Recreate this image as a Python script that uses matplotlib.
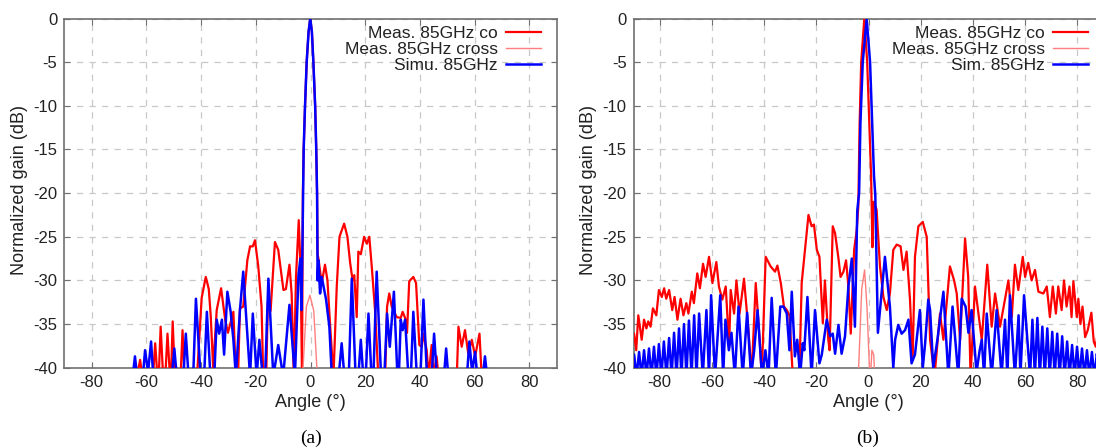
import matplotlib
matplotlib.use("Agg")
import matplotlib.pyplot as plt

plt.rcParams['font.family'] = ['Liberation Sans', 'DejaVu Sans']

# ---------------- panel (a) data ----------------
a_co_ang = [-63.5, -62.3, -61.5, -57.6, -56.8, -56.0, -55.5, -54.8, -53.9, -53.1, -52.3, -51.4, -51.0, -50.4, -49.6,
            -47.5, -46.8, -46.1, -41.5, -39.8, -38.3, -37.2, -36.5, -35.6, -34.3, -32.7, -31.2, -30.2, -28.2, -27.3,
            -26.5, -25.8, -24.6, -23.1, -22.1, -21.1, -20.3, -19.1, -17.9, -17.3, -16.2, -15.6, -14.6, -13.0, -11.8,
            -9.9, -9.0, -7.7, -6.9, -6.1, -5.3, -4.3, -3.6, -3.1, -2.8, -2.5, -2.0, -1.4, -0.7, -0.1, 0.5, 1.05, 1.7,
            2.1, 2.4, 2.6, 2.9, 4.1, 5.3, 6.2, 7.2, 8.4, 9.6, 10.6, 12.3, 13.5, 14.5, 15.4, 16.0, 16.9, 17.5, 18.4,
            19.6, 20.6, 21.5, 22.4, 23.6, 24.8, 27.3, 28.0, 28.8, 29.7, 31.5, 33.0, 33.7, 34.6, 35.3, 36.1, 37.6,
            38.6, 39.8, 40.7, 41.3, 42.5, 43.2, 44.3, 45.0, 46.1, 46.8, 53.5, 54.1, 55.3, 56.5, 57.7, 59.0, 60.2,
            61.8, 62.6]
a_co_db = [-41, -39.1, -41, -41, -37.2, -41, -41, -35.3, -41, -41, -36.1, -41, -41, -34.7, -41,
           -41, -35.7, -41, -41, -32.0, -29.6, -31.0, -34.0, -40.0, -33.4, -30.9, -34.5, -36.0, -33.6, -41,
           -41, -33.2, -33.0, -27.7, -26.1, -26.1, -25.4, -28.4, -33.0, -41, -41, -32.5, -33.5, -25.6, -26.5,
           -31.1, -31.0, -28.2, -31.5, -41, -29.6, -23.1, -29.0, -41, -20.0, -15.0, -10.0, -5.0, -1.5, 0.0, -1.5, -5.0, -10.0,
           -15.0, -20.0, -27.0, -27.5, -30.3, -28.2, -30.0, -35.3, -41, -30.7, -25.0, -23.5, -25.0, -28.0, -30.0, -29.4, -34.2,
           -26.7, -27.0, -25.0, -25.8, -25.0, -28.4, -33.4, -41, -41, -33.0, -31.5, -33.0, -34.2, -34.3, -33.6, -34.3, -36.0,
           -30.1, -29.6, -30.3, -37.4, -37.6, -36.1, -38.0, -41, -37.4, -41, -38.7, -41, -41, -35.3, -37.6, -35.7, -38.4,
           -36.8, -38.7, -36.1, -41]

a_cross_ang = [-2.9, -1.5, -0.2, 1.2, 2.5]
a_cross_db = [-41, -33.0, -31.7, -33.5, -41]

a_sim_ang = [-65.0, -64.2, -63.4, -61.3, -60.5, -59.4, -58.3, -57.5, -50.7, -49.8, -48.9, -46.5, -45.6, -44.6, -42.9,
             -41.9, -40.2, -38.9, -37.9, -36.6, -35.2, -34.3, -33.4, -32.4, -31.6, -30.4, -29.2, -28.2, -27.3, -25.8,
             -24.6, -22.1, -21.1, -19.7, -18.7, -17.5, -16.6, -15.4, -13.6, -11.8, -10.0, -7.7, -5.7, -4.4, -3.7, -3.3,
             -2.9, -2.7, -2.5, -2.0, -1.4, -0.7, -0.1, 0.5, 1.05, 1.7, 2.1, 2.4, 2.6, 2.9, 3.5, 4.1, 5.7, 6.9, 7.8,
             10.3, 11.4, 12.4, 14.0, 15.1, 16.5, 17.5, 18.4, 19.3, 20.2, 21.2, 22.3, 23.0, 24.2, 25.8, 27.0, 28.0, 29.0,
             30.5, 31.8, 32.3, 33.0, 33.7, 34.6, 35.8, 36.7, 37.6, 38.9, 40.2, 41.3, 42.6, 44.3, 45.2, 46.2, 48.8, 49.6,
             50.4, 57.2, 58.1, 59.1, 60.2, 61.0, 63.0, 63.8, 64.6]
a_sim_db = [-41, -38.7, -41, -41, -38.0, -40.5, -37.0, -41, -41, -37.8, -41, -41, -36.1, -41, -41,
            -32.1, -41, -41, -33.6, -41, -41, -34.5, -36.1, -34.5, -38.5, -31.3, -33.6, -36.8, -41, -33.4,
            -29.0, -41, -33.8, -41, -36.8, -41, -41, -29.8, -41, -37.4, -41, -32.8, -41, -29.4, -27.5, -33.4,
            -25.0, -20.0, -15.0, -10.0, -5.0, -1.5, 0.0, -1.5, -5.0, -10.0, -15.0, -20.0, -30.0, -27.7, -31.5, -29.6, -32.2, -35.3, -41,
            -41, -37.2, -41, -41, -29.8, -41, -41, -36.8, -41, -41, -33.8, -41, -41, -29.0, -41, -41, -33.8, -37.6,
            -31.3, -41, -41, -34.5, -35.7, -34.5, -41, -41, -33.6, -41, -41, -32.2, -41, -41, -36.1, -41, -41, -37.8,
            -41, -41, -37.0, -40.5, -38.2, -41, -41, -38.7, -41]

# ---------------- panel (b) data ----------------
b_co_ang = [-90.3, -89.8, -89.0, -88.2, -86.9, -86.0, -85.1, -84.4, -83.5, -82.6, -81.3, -80.3, -79.2, -78.3, -77.5,
            -76.4, -75.2, -74.3, -73.2, -72.0, -70.9, -69.8, -69.0, -67.7, -66.9, -65.6, -64.6, -63.4, -62.4, -61.1,
            -59.8, -58.3, -57.3, -56.0, -54.7, -53.4, -52.8, -51.5, -50.6, -49.4, -47.7, -46.0, -44.8, -43.2, -41.7,
            -40.9, -39.4, -37.5, -35.8, -34.9, -33.6, -32.4, -31.3, -30.3, -29.0, -26.5, -25.6, -23.0, -21.8, -20.9,
            -19.8, -18.8, -17.5, -16.7, -15.4, -14.9, -13.7, -12.8, -11.5, -10.7, -9.6, -8.6, -7.7, -6.8, -5.5, -4.5,
            -3.9, -3.4, -2.8, -1.6, -0.5, 0.3, 1.0, 1.5, 2.0, 3.1, 4.4, 5.7, 7.0, 8.2, 9.5, 10.8, 12.3, 13.4, 14.6,
            15.9, 16.9, 17.8, 19.1, 20.8, 22.3, 23.6, 25.3, 27.4, 28.7, 31.2, 32.8, 33.8, 35.1, 37.0, 38.2, 39.1, 40.8,
            43.4, 45.5, 47.2, 48.5, 50.4, 53.6, 54.9, 56.1, 57.4, 59.1, 60.0, 61.2, 62.5, 63.8, 65.1, 67.0, 68.3, 69.5,
            70.6, 71.8, 72.7, 74.0, 74.9, 75.9, 77.0, 77.8, 78.5, 79.8, 80.4, 81.2, 82.0, 83.0, 84.0, 85.4, 86.3, 87.1,
            88.0, 89.0, 90.0]
b_co_db = [-36.0, -36.1, -38.0, -34.0, -36.8, -34.5, -35.5, -34.7, -35.3, -33.2, -34.0, -31.1, -31.9, -30.9, -32.1,
           -31.1, -33.4, -31.9, -34.5, -32.1, -34.0, -32.6, -33.8, -31.3, -32.6, -29.2, -30.9, -28.1, -29.6, -27.3,
           -30.3, -27.9, -30.7, -32.2, -30.7, -37.6, -31.1, -33.8, -30.0, -33.8, -29.8, -35.7, -41, -30.3, -36.8,
           -41, -27.3, -28.4, -29.0, -28.3, -30.3, -33.0, -33.4, -34.0, -41, -41, -30.3, -22.5, -23.8, -23.6,
           -26.5, -27.3, -34.9, -30.0, -36.8, -38.0, -23.8, -24.6, -27.5, -29.6, -29.0, -27.7, -30.7, -36.1, -26.5, -24.2,
           -21.5, -12.0, -5.0, 0.0, -5.0, -12.0, -18.0, -26.2, -21.0, -21.9, -28.4, -31.9, -33.4, -31.5, -26.5, -25.9, -26.1, -28.8, -26.7,
           -32.2, -39.1, -27.3, -23.8, -23.3, -25.0, -36.8, -41, -33.8, -36.8, -28.4, -30.0, -31.5, -36.8, -25.2, -29.6, -41, -30.7,
           -36.8, -28.2, -35.3, -31.5, -35.3, -30.0, -34.2, -28.2, -31.1, -27.3, -29.6, -28.0, -30.0, -28.8, -31.3, -31.5, -30.7, -34.2,
           -30.7, -33.8, -30.7, -33.4, -30.0, -33.0, -30.7, -34.2, -30.1, -34.2, -32.1, -35.0, -33.0, -36.5, -35.7, -33.7, -37.0, -37.6,
           -35.5, -38.0, -37.0]

b_cross_ang = [-3.9, -2.6, -1.5, -0.6, 0.5, 0.8, 1.3, 2.0, 2.4]
b_cross_db = [-41, -31.0, -28.8, -33.0, -41, -41, -38.0, -38.5, -41]

b_sim_ang = [-90.5, -89.8, -88.85, -87.9, -86.95, -86.0, -85.05, -84.1, -83.15, -82.2, -81.25, -80.3, -79.35, -78.4,
             -77.4, -76.4, -75.45, -74.5, -73.55, -72.6, -71.65, -70.7, -69.75, -68.8, -67.8, -66.8, -65.9, -64.9,
             -63.5, -62.1, -61.1, -60.3, -58.8, -56.8, -55.7, -54.8, -53.5, -52.5, -51.2, -49.8, -48.2, -46.5, -45.0,
             -43.8, -42.5, -40.8, -39.5, -38.3, -37.1, -35.5, -33.8, -32.6, -31.3, -30.3, -29.4, -28.2, -27.3, -26.2,
             -25.2, -24.6, -23.4, -21.8, -20.5, -18.8, -17.9, -16.0, -14.7, -13.7, -12.8, -11.5, -10.3, -9.0, -7.7,
             -6.4, -5.2, -4.3, -3.6, -3.1, -2.2, -0.7, 0.6, 1.4, 2.1, 2.6, 3.6, 6.3, 8.2, 9.5, 10.2, 11.4, 12.7, 14.0,
             15.3, 16.5, 17.8, 19.7, 20.8, 21.7, 22.9, 23.6, 24.8, 26.4, 28.7, 30.6, 32.2, 34.4, 35.7, 37.2, 38.3, 39.5,
             41.4, 42.6, 43.4, 44.3, 45.3, 47.2, 49.1, 51.0, 52.3, 53.2, 54.2, 56.1, 57.5, 58.2, 59.6, 61.9, 62.8, 63.75,
             64.7, 65.65, 66.6, 67.55, 68.5, 69.45, 70.4, 71.35, 72.3, 73.25, 74.2, 75.15, 76.1, 77.05, 78.0, 78.95,
             79.9, 80.85, 81.8, 82.75, 83.7, 84.65, 85.6, 86.55, 87.5, 88.45]
b_sim_db = [-41, -38.5, -41, -38.2, -41, -38.0, -41, -37.8, -41, -37.6, -41, -37.3, -41, -37.0,
            -41, -36.6, -41, -36.0, -41, -35.5, -41, -35.0, -41, -34.6, -41, -34.0, -41, -33.8,
            -41, -33.4, -41, -31.7, -41, -31.7, -41, -34.5, -38.0, -36.0, -41, -33.0, -41, -33.7, -41,
            -38.0, -33.4, -41, -38.0, -41, -32.0, -41, -33.0, -33.0, -33.8, -38.0, -31.3, -38.7, -36.8, -41,
            -37.2, -38.0, -31.9, -41, -33.4, -39.5, -38.5, -34.5, -36.4, -36.1, -38.4, -35.1, -38.4, -36.4, -30.7,
            -27.5, -35.3, -22.0, -20.0, -12.0, -5.0, 0.0, -5.0, -12.0, -18.0, -20.2, -36.0, -27.3, -33.0, -40.0, -36.8, -35.1, -36.1, -35.7,
            -34.5, -39.5, -38.5, -33.4, -40.0, -37.2, -32.2, -33.4, -40.0, -36.8, -31.3, -41, -33.0, -41, -32.1, -33.0, -36.0, -33.4,
            -40.5, -38.0, -36.8, -41, -33.8, -41, -33.4, -41, -34.5, -41, -31.7, -41, -34.0, -41, -31.7, -41, -34.5, -41,
            -34.3, -41, -35.3, -41, -35.5, -41, -35.9, -41, -36.1, -41, -36.4, -41, -37.0, -41, -37.4, -41,
            -37.6, -41, -37.8, -41, -38.0, -41, -38.2, -41, -38.4, -41]

labels_a = ['Meas. 85GHz co', 'Meas. 85GHz cross', 'Simu. 85GHz']
labels_b = ['Meas. 85GHz co', 'Meas. 85GHz cross', 'Sim. 85GHz']
xticks = [-80, -60, -40, -20, 0, 20, 40, 60, 80]
yticks = [0, -5, -10, -15, -20, -25, -30, -35, -40]

RED = '#ff0000'
PINK = '#ff7f7f'
BLUE = '#0000ff'
TXT = '#222222'

W, H = 1096, 447
fig = plt.figure(figsize=(W / 100, H / 100), dpi=100)
ax1 = fig.add_axes([64.4 / W, 1 - 367.7 / H, 492.2 / W, 349.2 / H])
ax2 = fig.add_axes([633.6 / W, 1 - 367.7 / H, 469.8 / W, 349.2 / H])


def style(ax, data, labels, leg_right, caption, cap_x, ylab_x):
    co_a, co_d, cr_a, cr_d, si_a, si_d = data
    ax.plot(co_a, co_d, color=RED, lw=1.6, label=labels[0], zorder=3)
    ax.plot(cr_a, cr_d, color=PINK, lw=1.0, label=labels[1], zorder=4)
    ax.plot(si_a, si_d, color=BLUE, lw=1.8, label=labels[2], zorder=5)
    ax.set_xlim(-90, 90)
    ax.set_ylim(-40, 0)
    ax.set_xticks(xticks)
    ax.set_yticks(yticks)
    ax.set_xticklabels([str(t) for t in xticks])
    ax.set_yticklabels([str(t) for t in yticks])
    ax.grid(True, color='#c8c8c8', linestyle=(0, (5, 5)), linewidth=0.9)
    ax.set_axisbelow(True)
    for s in ax.spines.values():
        s.set_color('#707070')
        s.set_linewidth(1.2)
    ax.tick_params(direction='in', length=4, width=0.8, color='#707070', top=True, right=True,
                   labelsize=12, labelcolor=TXT, pad=5)
    ax.set_xlabel('Angle (°)', fontsize=13, color=TXT, labelpad=3)
    ax.set_ylabel('Normalized gain (dB)', fontsize=13, color=TXT)
    ax.yaxis.set_label_coords(ylab_x / W, 1 - 190 / H, transform=fig.transFigure)
    leg = ax.legend(loc='upper right', bbox_to_anchor=(leg_right / W, 1 - 26 / H),
                    bbox_transform=fig.transFigure, frameon=False, markerfirst=False,
                    fontsize=12.5, handlelength=2.0, handletextpad=0.5, labelspacing=0.05,
                    borderpad=0, borderaxespad=0)
    for t in leg.get_texts():
        t.set_color(TXT)
    fig.text(cap_x / W, 1 - 438 / H, caption, ha='center', va='center',
             fontsize=14, family='Liberation Serif', color='black')


style(ax1, (a_co_ang, a_co_db, a_cross_ang, a_cross_db, a_sim_ang, a_sim_db), labels_a, 541, '(a)', 311, 28)
style(ax2, (b_co_ang, b_co_db, b_cross_ang, b_cross_db, b_sim_ang, b_sim_db), labels_b, 1088, '(b)', 868, 597)

fig.savefig('out.png', dpi=100)
